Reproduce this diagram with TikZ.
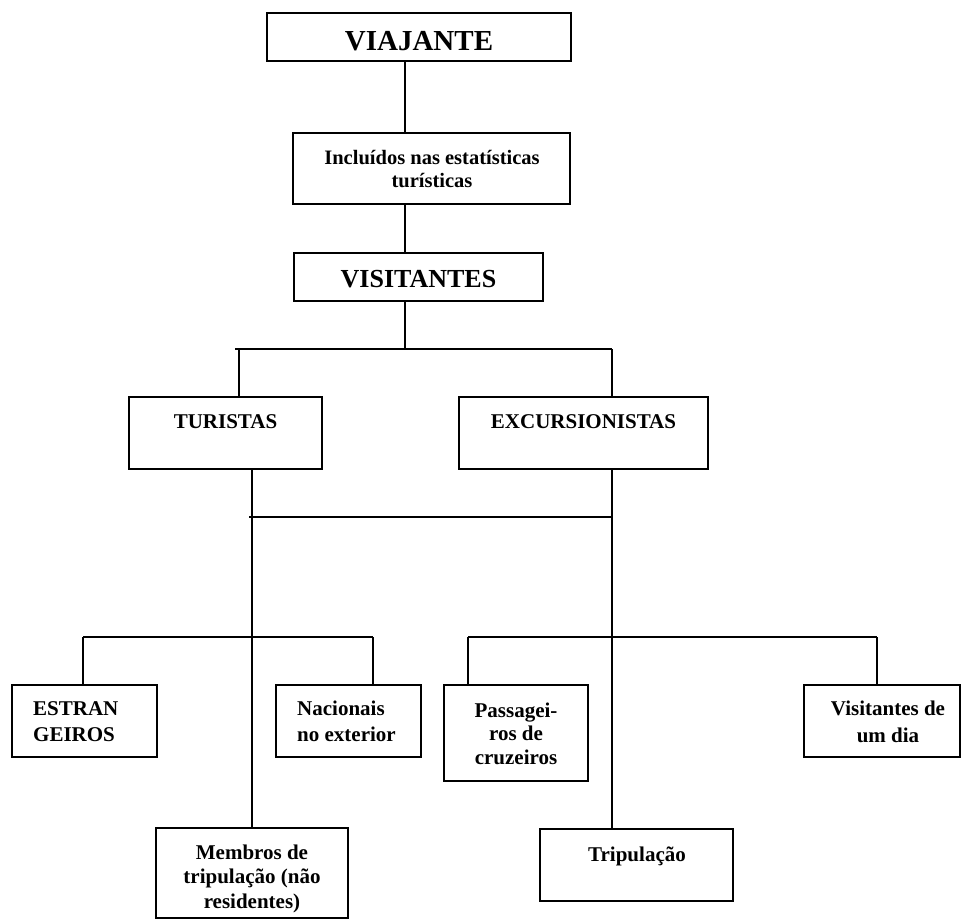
\documentclass[tikz,border=0pt]{standalone}
\usepackage{fontspec}
\setmainfont{Liberation Serif}
\begin{document}
\begin{tikzpicture}[x=1pt,y=-1pt,
  box/.style={draw, line width=1.8pt, rectangle, inner sep=0pt},
  conn/.style={line width=1.8pt},
  lbl/.style={font=\bfseries\fontsize{21}{24}\selectfont, align=center, inner sep=0pt}]
\useasboundingbox (0,0) rectangle (962,920);

% boxes
\node[box, minimum width=304, minimum height=48] (via) at (419,37) {};
\node[box, minimum width=277, minimum height=71] (inc) at (431.5,168.5) {};
\node[box, minimum width=249, minimum height=48] (vis) at (418.5,277) {};
\node[box, minimum width=193, minimum height=72] (tur) at (225.5,433) {};
\node[box, minimum width=249, minimum height=72] (exc) at (583.5,433) {};
\node[box, minimum width=145, minimum height=72] (est) at (84.5,721) {};
\node[box, minimum width=145, minimum height=72] (nac) at (348.5,721) {};
\node[box, minimum width=144, minimum height=96] (pas) at (516,733) {};
\node[box, minimum width=156, minimum height=72] (vdia) at (882,721) {};
\node[box, minimum width=192, minimum height=90] (mem) at (252,873) {};
\node[box, minimum width=193, minimum height=72] (tri) at (636.5,865) {};

% texts (multi-line nodes: base = baseline of last line)
\node[lbl, anchor=base, font=\bfseries\fontsize{29}{32}\selectfont] (viat) at (419,51) {VIAJANTE};
\node[lbl, anchor=base, font=\bfseries\fontsize{20.5}{22.5}\selectfont] (inct) at (432,187.5) {Incluídos nas estatísticas\\turísticas};
\node[lbl, anchor=base, font=\bfseries\fontsize{26}{29}\selectfont] (vist) at (418.5,288) {VISITANTES};
\node[lbl, anchor=base] (turt) at (225.5,428) {TURISTAS};
\node[lbl, anchor=base] (exct) at (583.5,428) {EXCURSIONISTAS};
\node[lbl, anchor=base west, align=left, font=\bfseries\fontsize{21}{26}\selectfont] (estt) at (33,741) {ESTRAN\\GEIROS};
\node[lbl, anchor=base west, align=left, font=\bfseries\fontsize{21}{26}\selectfont] (nact) at (297,741) {Nacionais\\no exterior};
\node[lbl, anchor=base, font=\bfseries\fontsize{21}{23.5}\selectfont] (past) at (516,764) {Passagei-\\ros de\\cruzeiros};
\node[lbl, anchor=base, font=\bfseries\fontsize{21}{27}\selectfont] (vdiat) at (888,742) {Visitantes de\\um dia};
\node[lbl, anchor=base, font=\bfseries\fontsize{21}{24.5}\selectfont] (memt) at (252,908) {Membros de\\tripulação (não\\residentes)};
\node[lbl, anchor=base] (trit) at (637,861) {Tripulação};

% junction coordinates
\coordinate (sp) at (405,349);
\coordinate (b1l) at (235,349);
\coordinate (td) at (239,349);
\coordinate (b1r) at (612,349);
\coordinate (b2l) at (249,517);
\coordinate (tx) at (252,517);
\coordinate (ex) at (612,517);
\coordinate (b3l) at (83,637);
\coordinate (b3r) at (373,637);
\coordinate (b4l) at (468,637);
\coordinate (b4r) at (877,637);

% connectors
\draw[conn] (via.south -| sp) -- (inc.north -| sp);
\draw[conn] (inc.south -| sp) -- (vis.north -| sp);
\draw[conn] (vis.south -| sp) -- (sp);
\draw[conn] (b1l) -- (b1r);
\draw[conn] (td) -- (tur.north -| td);
\draw[conn] (b1r) -- (exc.north -| b1r);
\draw[conn] (tur.south -| tx) -- (mem.north -| tx);
\draw[conn] (exc.south -| ex) -- (tri.north -| ex);
\draw[conn] (b2l) -- (ex);
\draw[conn] (b3l) -- (b3r);
\draw[conn] (b3l) -- (est.north -| b3l);
\draw[conn] (b3r) -- (nac.north -| b3r);
\draw[conn] (b4l) -- (b4r);
\draw[conn] (b4l) -- (pas.north -| b4l);
\draw[conn] (b4r) -- (vdia.north -| b4r);
\end{tikzpicture}
\end{document}
